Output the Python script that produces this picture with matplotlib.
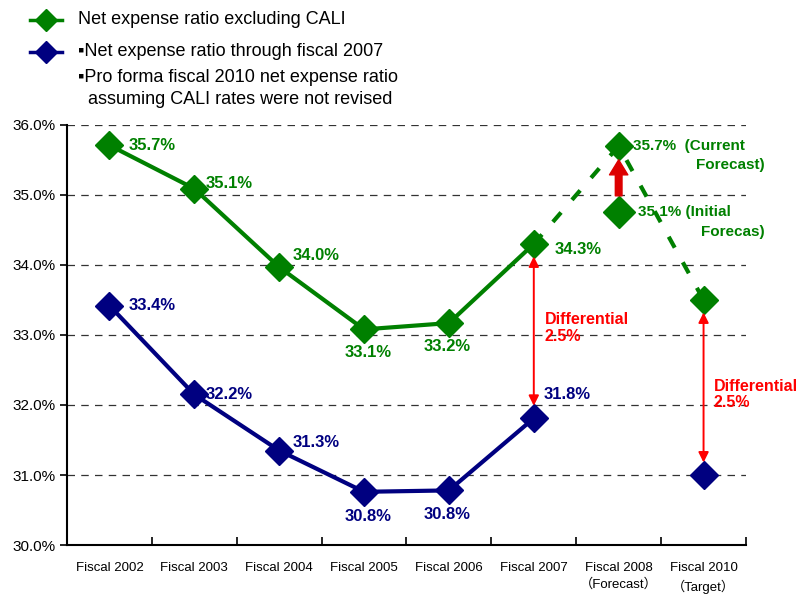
import matplotlib.pyplot as plt
from matplotlib.lines import Line2D
from matplotlib.ticker import FuncFormatter, FixedLocator

plt.rcParams['font.family'] = ['Liberation Sans', 'DejaVu Sans', 'Noto Sans CJK JP']

categories = ['Fiscal 2002', 'Fiscal 2003', 'Fiscal 2004', 'Fiscal 2005', 'Fiscal 2006',
              'Fiscal 2007', 'Fiscal 2008\n（Forecast）', 'Fiscal 2010\n（Target）']
green_actual = [35.71, 35.09, 33.97, 33.08, 33.17, 34.30]
green_actual_lbl = ['35.7%', '35.1%', '34.0%', '33.1%', '33.2%', '34.3%']
green_fcst_x = [5, 6, 7]
green_fcst = [34.30, 35.70, 33.50]
initial_fcst = 34.75
blue_actual = [33.42, 32.15, 31.35, 30.76, 30.78, 31.81]
blue_actual_lbl = ['33.4%', '32.2%', '31.3%', '30.8%', '30.8%', '31.8%']
blue_2010 = 31.0

GREEN = '#008000'
NAVY = '#000080'
RED = '#ff0000'

fig = plt.figure(figsize=(7.97, 5.95), dpi=100)
ax = fig.add_axes([0.084, 0.084, 0.852, 0.706])

# grid
for v in range(31, 37):
    ax.axhline(v, color='#333333', lw=0.9, ls=(0, (6, 5)), zorder=0)

# green lines
xs = list(range(len(green_actual)))
ax.plot(xs, green_actual, color=GREEN, lw=3, marker='D', ms=14, zorder=3)
ax.plot(green_fcst_x, green_fcst, color=GREEN, lw=3, ls=(0, (3, 4)), zorder=2)
ax.plot(green_fcst_x[1:], green_fcst[1:], ls='none', marker='D', ms=14, color=GREEN, zorder=3)
ax.plot([6], [initial_fcst], ls='none', marker='D', ms=16, color=GREEN, zorder=3)

# blue lines
ax.plot(xs, blue_actual, color=NAVY, lw=3, marker='D', ms=14, zorder=3)
ax.plot([7], [blue_2010], ls='none', marker='D', ms=14, color=NAVY, zorder=3)

# data labels
lbl_kw = dict(fontsize=12, fontweight='bold', textcoords='offset points')
green_off = [(14, 0), (8, 4), (10, 8), (-14, -17), (-18, -17), (15, -4)]
blue_off = [(14, 0), (8, 0), (10, 6), (-14, -18), (-18, -17), (7, 17)]
for i, (v, t) in enumerate(zip(green_actual, green_actual_lbl)):
    ax.annotate(t, (i, v), xytext=green_off[i], color=GREEN, va='center', **lbl_kw)
for i, (v, t) in enumerate(zip(blue_actual, blue_actual_lbl)):
    ax.annotate(t, (i, v), xytext=blue_off[i], color=NAVY, va='center', **lbl_kw)

ax.annotate('35.7%  (Current', (6, green_fcst[1]), xytext=(10, 0), color=GREEN, va='center',
            fontsize=11, fontweight='bold', textcoords='offset points')
ax.annotate('Forecast)', (6, green_fcst[1]), xytext=(105, -14), color=GREEN, va='center',
            ha='right', fontsize=11, fontweight='bold', textcoords='offset points')
ax.annotate('35.1% (Initial', (6, initial_fcst), xytext=(14, 0), color=GREEN, va='center',
            fontsize=11, fontweight='bold', textcoords='offset points')
ax.annotate('Forecas)', (6, initial_fcst), xytext=(105, -14), color=GREEN, va='center',
            ha='right', fontsize=11, fontweight='bold', textcoords='offset points')

# differential arrows
dbl = dict(arrowstyle='<|-|>', color=RED, lw=1.4, mutation_scale=15, shrinkA=9, shrinkB=9)
ax.annotate('', xy=(5, green_actual[5]), xytext=(5, blue_actual[5]), arrowprops=dbl)
ax.annotate('', xy=(7, green_fcst[2]), xytext=(7, blue_2010), arrowprops=dbl)
ax.text(5.13, 33.1, 'Differential\n2.5%', color=RED, fontsize=11.5, fontweight='bold',
        va='center', linespacing=1.1)
ax.text(7.12, 32.15, 'Differential\n2.5%', color=RED, fontsize=11.5, fontweight='bold',
        va='center', linespacing=1.1)
ax.annotate('', xy=(6, green_fcst[1]), xytext=(6, initial_fcst),
            arrowprops=dict(arrowstyle='simple,head_width=1.1,head_length=0.9,tail_width=0.4',
                            color='#dd0000', shrinkA=12, shrinkB=10, mutation_scale=12))

# axes styling
ax.set_xlim(-0.5, 7.5)
ax.set_ylim(30, 36)
ax.set_yticks(range(30, 37))
ax.yaxis.set_major_formatter(FuncFormatter(lambda v, p: f'{v:.1f}%'))
ax.set_xticks(range(len(categories)))
ax.set_xticklabels(categories, fontsize=9.5, linespacing=1.5,
                   family=['Liberation Sans', 'Noto Sans CJK JP'])
ax.xaxis.set_minor_locator(FixedLocator([i - 0.5 for i in range(len(categories) + 1)]))
ax.tick_params(axis='x', which='major', length=0, pad=12)
ax.tick_params(axis='x', which='minor', direction='in', length=6, width=1.2)
ax.tick_params(axis='y', direction='out', length=5, width=1.2, labelsize=11, pad=3)
for s in ['top', 'right']:
    ax.spines[s].set_visible(False)
for s in ['left', 'bottom']:
    ax.spines[s].set_linewidth(1.5)

# legend drawn at top-left
def legend_glyph(y, color):
    fig.add_artist(Line2D([30 / 797, 62 / 797], [1 - y / 595] * 2, color=color, lw=2.5,
                          transform=fig.transFigure))
    fig.add_artist(Line2D([46 / 797], [1 - y / 595], color=color, marker='D', ms=11,
                          transform=fig.transFigure))

legend_glyph(20, GREEN)
legend_glyph(52, NAVY)
fig.text(78 / 797, 1 - 20 / 595, 'Net expense ratio excluding CALI', fontsize=13, va='center')
fig.text(78 / 797, 1 - 52 / 595, '▪Net expense ratio through fiscal 2007', fontsize=13, va='center')
fig.text(78 / 797, 1 - 77 / 595, '▪Pro forma fiscal 2010 net expense ratio', fontsize=13, va='center')
fig.text(78 / 797, 1 - 99 / 595, '  assuming CALI rates were not revised', fontsize=13, va='center')

fig.savefig('out.png', dpi=100)
